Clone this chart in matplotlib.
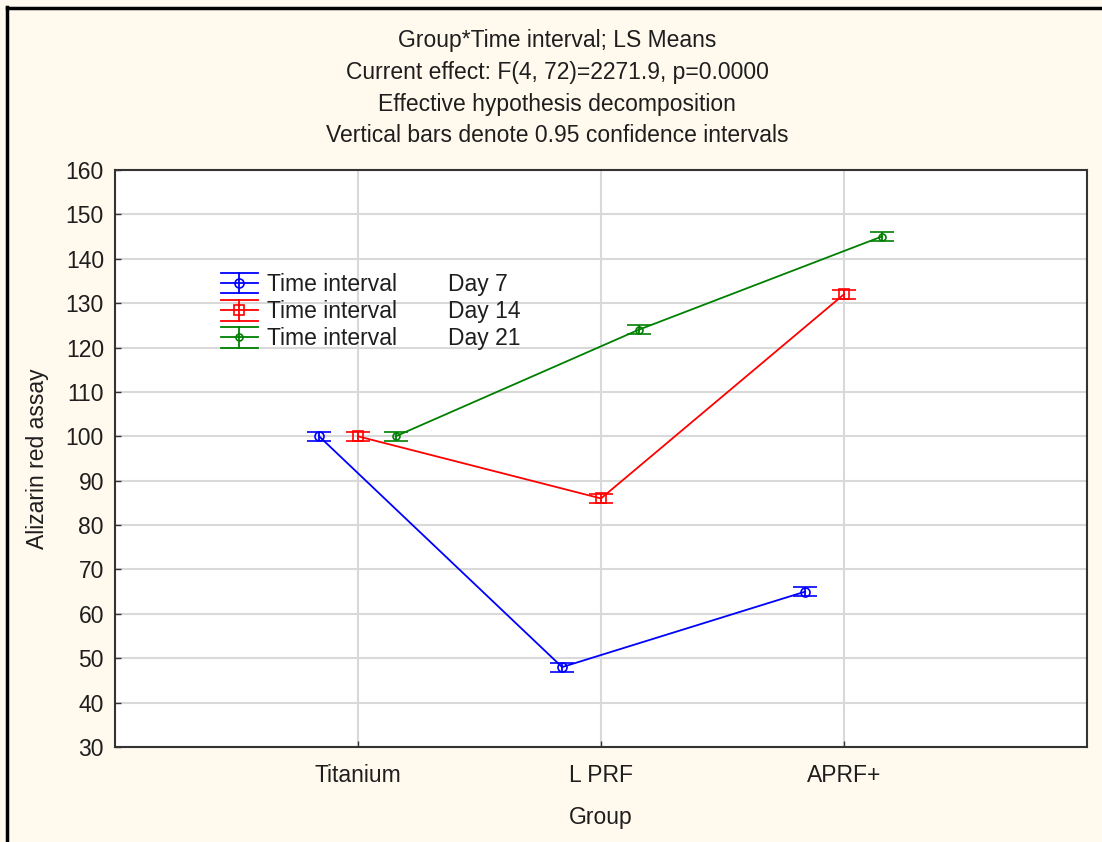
import matplotlib
matplotlib.use("Agg")
import matplotlib.pyplot as plt
from matplotlib.lines import Line2D
from matplotlib.legend_handler import HandlerBase
import numpy as np

plt.rcParams['font.family'] = ['Liberation Sans', 'DejaVu Sans']

# LS means per group and time interval, with 0.95 CI half-widths
groups = ["Titanium", "L PRF", "APRF+"]
day7 = [100, 48, 65]
day14 = [100, 86, 132]
day21 = [100, 124, 145]
ci7 = [1.0, 1.0, 1.0]
ci14 = [1.0, 1.0, 1.0]
ci21 = [1.0, 1.0, 1.0]
series_labels = ["Day 7", "Day 14", "Day 21"]
yticks = list(range(30, 161, 10))

title_lines = [
    "Group*Time interval; LS Means",
    "Current effect: F(4, 72)=2271.9, p=0.0000",
    "Effective hypothesis decomposition",
    "Vertical bars denote 0.95 confidence intervals",
]

colors = ["#0000ff", "#ff0000", "#008000"]
markers = ["o", "s", "o"]
msizes = [6.5, 6.5, 5.0]
offsets = [-0.16, 0.0, 0.155]
txt = "#1e1e1e"
FS = 16.5

fig = plt.figure(figsize=(11.02, 8.42), dpi=100)
fig.patch.set_facecolor("#fff9ee")
ax = fig.add_axes([115 / 1102, 1 - 747 / 842, (1087 - 115) / 1102, (747 - 170) / 842])
ax.set_facecolor("white")

x = np.arange(1, len(groups) + 1)
handles = []
for vals, ci, c, m, ms, off in zip([day7, day14, day21], [ci7, ci14, ci21],
                                    colors, markers, msizes, offsets):
    ax.errorbar(x + off, vals, yerr=ci, color=c, lw=1.3, marker=m, ms=ms,
                mfc="none", mec=c, mew=1.2, capsize=8.5, capthick=1.3,
                elinewidth=1.3, zorder=3)
    handles.append((c, m, ms))

ax.set_xlim(0, 4)
ax.set_ylim(30, 160)
ax.set_xticks(x)
ax.set_xticklabels(groups)
ax.set_yticks(yticks)
ax.grid(True, color="#d9d9d9", lw=1.5, zorder=0)
ax.set_axisbelow(True)
ax.tick_params(direction="in", length=4, width=1, colors="#333333",
               labelcolor=txt, labelsize=FS, pad=8)
ax.tick_params(axis="x", pad=12)
for s in ax.spines.values():
    s.set_color("#333333")
    s.set_linewidth(1.5)
ax.set_xlabel("Group", fontsize=FS, color=txt, labelpad=14)
ax.set_ylabel("Alizarin red assay", fontsize=FS, color=txt, labelpad=12)

# title block
for i, line in enumerate(title_lines):
    fig.text(557 / 1102, 1 - (40 + 32 * i) / 842, line, ha="center", va="center",
             fontsize=FS, color=txt)


class ErrorbarKey(HandlerBase):
    def create_artists(self, legend, orig_handle, xdescent, ydescent, width,
                       height, fontsize, trans):
        c, m, ms = orig_handle
        x0, x1 = -xdescent, -xdescent + width
        yc = -ydescent + height / 2
        h = 7.5
        xm = (x0 + x1) / 2
        arts = [
            Line2D([x0, x1], [yc, yc], color=c, lw=1.3),
            Line2D([x0, x1], [yc + h, yc + h], color=c, lw=1.3),
            Line2D([x0, x1], [yc - h, yc - h], color=c, lw=1.3),
            Line2D([xm, xm], [yc - h, yc + h], color=c, lw=1.3),
            Line2D([xm], [yc], marker=m, ms=ms, mfc="none", mec=c, mew=1.2),
        ]
        for a in arts:
            a.set_transform(trans)
        return arts


labels = ["Time interval" + " " * 8 + s for s in series_labels]
leg = ax.legend(handles, labels, handler_map={tuple: ErrorbarKey()},
                loc="upper left", bbox_to_anchor=(221 / 1102, 1 - 273 / 842),
                bbox_transform=fig.transFigure, frameon=False, fontsize=FS,
                handlelength=1.6, handletextpad=0.4, labelspacing=0.18,
                borderpad=0, borderaxespad=0)
for t in leg.get_texts():
    t.set_color(txt)

# outer frame on top and left edges
fig.add_artist(Line2D([7 / 1102, 7 / 1102], [0, 1 - 7 / 842], color="black", lw=2.5,
                      transform=fig.transFigure))
fig.add_artist(Line2D([7 / 1102, 1], [1 - 8 / 842, 1 - 8 / 842], color="black", lw=2.5,
                      transform=fig.transFigure))

fig.savefig("out.png", dpi=100, facecolor=fig.get_facecolor())
